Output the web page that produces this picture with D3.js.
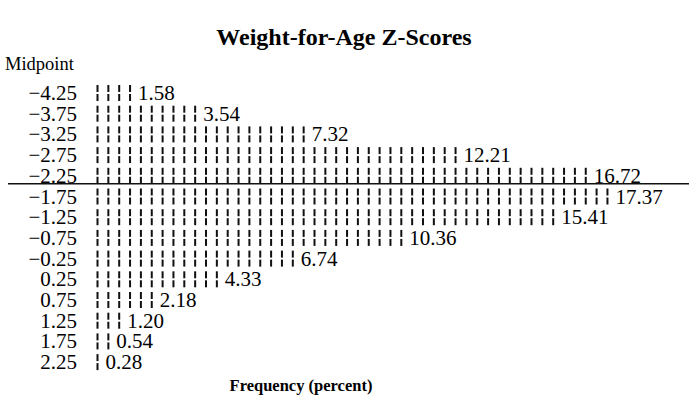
<!DOCTYPE html>
<html>
<head>
<meta charset="utf-8">
<script src="https://cdn.jsdelivr.net/npm/d3@7"></script>
<style>
  body { margin: 0; background: #fff; }
  svg { display: block; font-family: "Liberation Serif", "DejaVu Serif", serif; }
</style>
</head>
<body>
<div class="chart"></div>
<script>
// histogram of weight-for-age z-scores, one row per midpoint
let midpoints = ["\u22124.25", "\u22123.75", "\u22123.25", "\u22122.75", "\u22122.25", "\u22121.75", "\u22121.25",
                 "\u22120.75", "\u22120.25", "0.25", "0.75", "1.25", "1.75", "2.25"];
let percents = [1.58, 3.54, 7.32, 12.21, 16.72, 17.37, 15.41, 10.36, 6.74, 4.33, 2.18, 1.20, 0.54, 0.28];
let percentLabels = ["1.58", "3.54", "7.32", "12.21", "16.72", "17.37", "15.41", "10.36", "6.74", "4.33", "2.18", "1.20", "0.54", "0.28"];
let markUnit = 0.36;      // each tick symbol stands for this many percent
let cutoffRow = "\u22122.25"; // rule drawn under this row

let width = 689, height = 419;

let svg = d3.select(".chart")
            .append("svg")
            .attr("width", width)
            .attr("height", height);

let x = d3.scaleLinear()
          .domain([0, markUnit])
          .range([97.5, 108.35]);

let y = d3.scalePoint()
          .domain(midpoints)
          .range([93, 93 + 20.7 * (midpoints.length - 1)]);

svg.append("text")
   .attr("x", 344)
   .attr("y", 45)
   .attr("text-anchor", "middle")
   .style("font-size", "24px")
   .style("font-weight", "bold")
   .text("Weight-for-Age Z-Scores");

svg.append("text")
   .attr("x", 5)
   .attr("y", 70)
   .style("font-size", "18.5px")
   .text("Midpoint");

let rows = svg.append("g")
              .selectAll("g")
              .data(midpoints.map((m, i) => ({mid: m, pct: percents[i], label: percentLabels[i]})))
              .enter()
              .append("g")
              .attr("transform", d => "translate(0," + y(d.mid) + ")");

rows.append("text")
    .attr("x", 77)
    .attr("y", 7)
    .attr("text-anchor", "end")
    .style("font-size", "21px")
    .text(d => d.mid);

rows.each(function(d){
    let n = Math.round(d.pct / markUnit);
    let marks = d3.range(n);
    let g = d3.select(this);
    g.selectAll("rect.top")
     .data(marks)
     .enter()
     .append("rect")
     .attr("class", "top")
     .attr("x", k => x(k * markUnit) - 1)
     .attr("y", -8)
     .attr("width", 2)
     .attr("height", 7)
     .attr("fill", "#111");
    g.selectAll("rect.bot")
     .data(marks)
     .enter()
     .append("rect")
     .attr("class", "bot")
     .attr("x", k => x(k * markUnit) - 1)
     .attr("y", 1)
     .attr("width", 2)
     .attr("height", 7)
     .attr("fill", "#111");
    g.append("text")
     .attr("x", x((n - 1) * markUnit) + 8)
     .attr("y", 7)
     .style("font-size", "21px")
     .text(d.label);
});

svg.append("line")
   .attr("x1", 8)
   .attr("x2", width)
   .attr("y1", y(cutoffRow) + 8)
   .attr("y2", y(cutoffRow) + 8)
   .attr("stroke", "#111")
   .attr("stroke-width", 1.5);

svg.append("text")
   .attr("x", 301)
   .attr("y", 391)
   .attr("text-anchor", "middle")
   .style("font-size", "16.5px")
   .style("font-weight", "bold")
   .text("Frequency (percent)");
</script>
</body>
</html>
